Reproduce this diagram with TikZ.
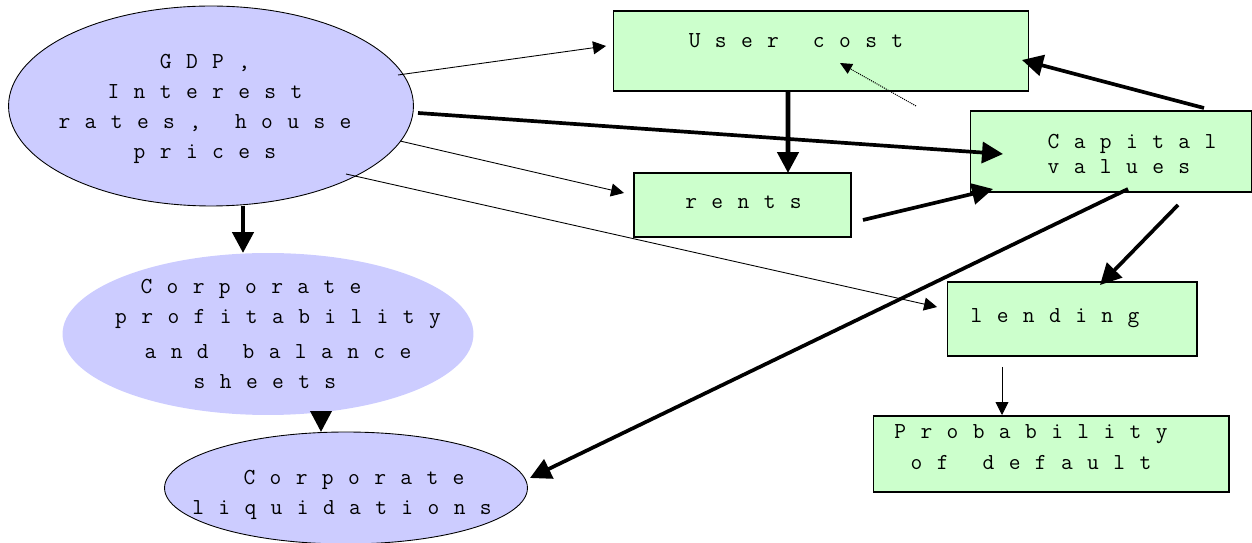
\documentclass[tikz,border=0pt]{standalone}
\usepackage{fontspec}
\newfontfamily\spacedmono[LetterSpace=63,WordSpace={1.3,0,0}]{Latin Modern Mono}
\usetikzlibrary{calc,arrows.meta,shapes.geometric}
\definecolor{lavender}{RGB}{204,204,255}
\definecolor{mint}{RGB}{204,255,204}

\begin{document}
\begin{tikzpicture}[x=0.02cm,y=-0.02cm,
  every node/.style={inner sep=0pt,outer sep=0pt},
  bubble/.style={ellipse,fill=lavender,draw=black,line width=0.5pt},
  factor/.style={rectangle,fill=mint,draw=black,line width=0.6pt},
  words/.style={font=\fontsize{13}{17}\selectfont\spacedmono,align=center},
  thickarr/.style={line width=2.1pt,-{Triangle[length=0.42cm,width=0.42cm]}},
  thinarr/.style={line width=0.5pt,-{Triangle[length=0.26cm,width=0.26cm]}},
  dotarr/.style={line width=0.6pt,dash pattern=on 0.6pt off 0.6pt,-{Triangle[length=0.24cm,width=0.22cm]}}]
\useasboundingbox (0,0) rectangle (1252,543);

\node[bubble,minimum width=8.1cm,minimum height=4cm] (gdp) at (211,106) {};
\node[bubble,draw=none,minimum width=8.22cm,minimum height=3.24cm] (prof) at (268,334) {};
\node[bubble,minimum width=7.26cm,minimum height=2.24cm] (liq) at (346,488) {};
\node[factor,minimum width=8.32cm,minimum height=1.6cm] (user) at (821,51) {};
\node[factor,minimum width=4.34cm,minimum height=1.28cm] (rents) at (742.5,205) {};
\node[factor,minimum width=5.64cm,minimum height=1.62cm] (capital) at (1111,151.5) {};
\node[factor,minimum width=5cm,minimum height=1.48cm] (lending) at (1072,319) {};
\node[factor,minimum width=7.12cm,minimum height=1.52cm] (prob) at (1051,454) {};

\node[words] (gdp-t) at ($(gdp)+(-6,3)$) {GDP,\\Interest\\rates, house\\prices};
\node[words] (prof-t) at ($(prof)+(10,0)$) {Corporate\kern1.08cm\\profitability\\[2.8pt]and balance\\sheets\kern0.52cm};
\node[words] (liq-t) at ($(liq)+(-4,7)$) {\hspace{0.48cm}Corporate\\liquidations};
\node[words] (user-t) at ($(user)+(-25,-10)$) {User cost};
\node[words] (rents-t) at ($(rents)+(1,-3)$) {rents};
\node[words,align=left] (capital-t) at ($(capital)+(21,2.5)$) {Capital\\[-2.3pt]values};
\node[words] (lending-t) at ($(lending)+(-17,-1)$) {lending};
\node[words] (prob-t) at ($(prob)+(-20,-7)$) {Probability\\[1.1pt]of default};

\draw[thinarr] ($(gdp)+(187,-31)$) -- ($(user.west)+(-7,-5)$);
\draw[thickarr] ($(gdp)+(207,7)$) -- ($(capital.west)+(33,2.5)$);
\draw[thinarr] ($(gdp)+(189,35)$) -- ($(rents.west)+(-10,-12)$);
\draw[thinarr] ($(gdp)+(135,68)$) -- ($(lending.west)+(-10,-12)$);
\draw[thickarr,line width=2.6pt] ($(gdp.south)+(32,0)$) -- ($(prof.north)+(-25,0)$);
\draw[thickarr] ($(prof.south)+(53,0)$) -- ($(liq.north)+(-25,0)$);
\draw[thickarr,line width=2.6pt] ($(user.south)+(-33,0)$) -- ($(rents.north)+(45.5,0)$);
\draw[dotarr] ($(user.south)+(95,15)$) -- ($(user)+(19,12)$);
\draw[thickarr] ($(capital.north)+(93,-3)$) -- ($(user.east)+(-7,9)$);
\draw[thickarr] ($(rents.east)+(12,15)$) -- ($(capital.south west)+(23,-3)$);
\draw[thickarr] ($(capital.south)+(17,-3)$) -- ($(liq.east)+(2.5,-10)$);
\draw[thickarr] ($(capital.south)+(67,13)$) -- ($(lending.north)+(28,3)$);
\draw[thinarr] ($(lending.south)+(-70,11)$) -- ($(prob.north)+(-49,-1)$);
\end{tikzpicture}
\end{document}
